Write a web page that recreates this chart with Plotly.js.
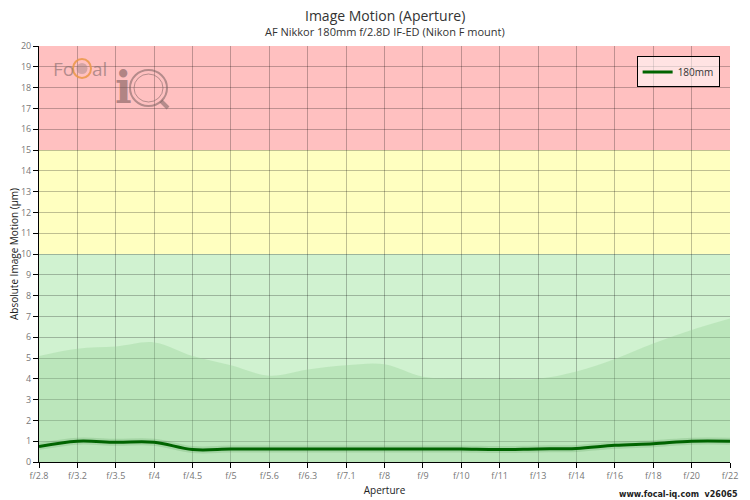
<!DOCTYPE html>
<html>
<head>
<meta charset="utf-8">
<script src="https://cdn.plot.ly/plotly-3.0.1.min.js"></script>
<style>
  html, body { margin: 0; padding: 0; background: #fff; }
  #chart { width: 750px; height: 500px; }
</style>
</head>
<body>
<div id="chart"></div>
<script>
// apertures along the x axis
const apertures = ['f/2.8', 'f/3.2', 'f/3.5', 'f/4', 'f/4.5', 'f/5', 'f/5.6', 'f/6.3', 'f/7.1', 'f/8',
                   'f/9', 'f/10', 'f/11', 'f/13', 'f/14', 'f/16', 'f/18', 'f/20', 'f/22'];
// measured image motion, 180mm
const motion180 = [0.75, 1.0, 0.95, 0.95, 0.6, 0.62, 0.62, 0.62, 0.63, 0.63,
                   0.63, 0.62, 0.6, 0.63, 0.65, 0.8, 0.88, 1.0, 1.0];
// shaded reference band (upper envelope)
const bandUpper = [5.1, 5.45, 5.55, 5.75, 5.1, 4.65, 4.15, 4.45, 4.65, 4.7,
                   4.1, 4.0, 4.0, 4.0, 4.35, 4.95, 5.7, 6.35, 6.9];
// zone limits (µm)
const zoneGreen = [0, 10];
const zoneYellow = [10, 15];
const zoneRed = [15, 20];

const idx = apertures.map((_, i) => i);

// plot area in page pixels, used only to place the logo
const L = 39, T = 46, W = 691, H = 416;
const px = v => (v - L) / W;
const py = v => (T + H - v) / H;

const traces = [
  {
    x: idx, y: bandUpper, type: 'scatter', mode: 'lines',
    line: { shape: 'spline', width: 0, color: 'rgba(0,0,0,0)' },
    fill: 'tozeroy', fillcolor: 'rgba(150,210,150,0.35)',
    hoverinfo: 'skip', showlegend: false
  },
  {
    x: idx, y: motion180, type: 'scatter', mode: 'lines',
    line: { shape: 'spline', width: 7, color: 'rgba(60,140,60,0.18)' },
    hoverinfo: 'skip', showlegend: false
  },
  {
    x: idx, y: motion180, type: 'scatter', mode: 'lines', name: '180mm',
    line: { shape: 'spline', width: 3, color: '#006400' }
  }
];

const zone = (r, color) => ({
  type: 'rect', xref: 'paper', yref: 'y', x0: 0, x1: 1, y0: r[0], y1: r[1],
  fillcolor: color, line: { width: 0 }, layer: 'below'
});

const logoGrey = 'rgba(120,95,95,0.55)';

const layout = {
  width: 750, height: 500,
  margin: { l: L, r: 750 - L - W, t: T, b: 500 - T - H },
  paper_bgcolor: '#ffffff',
  plot_bgcolor: '#ffffff',
  font: { family: 'Open Sans, sans-serif', size: 10, color: '#333' },
  showlegend: true,
  legend: {
    x: 0.985, xanchor: 'right', y: 0.975, yanchor: 'top',
    bgcolor: 'rgba(255,255,255,0.55)', bordercolor: '#000', borderwidth: 1,
    font: { size: 10, color: '#333' }, tracegroupgap: 0
  },
  xaxis: {
    range: [0, 18], tickmode: 'array', tickvals: idx, ticktext: apertures,
    showgrid: true, gridcolor: 'rgba(0,0,0,0.25)', gridwidth: 1,
    showline: true, linecolor: '#000', linewidth: 1,
    ticks: 'outside', ticklen: 5, tickcolor: '#000',
    tickfont: { size: 9, color: '#777' }, zeroline: false,
    title: { text: 'Aperture', font: { size: 10, color: '#222' }, standoff: 6 }
  },
  yaxis: {
    range: [0, 20], dtick: 1, tick0: 0,
    showgrid: true, gridcolor: 'rgba(0,0,0,0.25)', gridwidth: 1,
    showline: true, linecolor: '#000', linewidth: 1,
    ticks: 'outside', ticklen: 5, tickcolor: '#000',
    tickfont: { size: 9, color: '#777' }, zeroline: false,
    title: { text: 'Absolute Image Motion (µm)', font: { size: 10, color: '#222' }, standoff: 0 }
  },
  shapes: [
    zone(zoneGreen, '#d0f2d0'),
    zone(zoneYellow, '#ffffc0'),
    zone(zoneRed, '#ffc0c0'),
    // logo: ring around the C of "Focal"
    { type: 'circle', xref: 'paper', yref: 'paper',
      x0: px(73), x1: px(91), y0: py(78), y1: py(59),
      line: { color: 'rgba(235,150,70,0.85)', width: 2 } },
    { type: 'circle', xref: 'paper', yref: 'paper',
      x0: px(76.5), x1: px(87.5), y0: py(74), y1: py(63),
      fillcolor: 'rgba(160,130,130,0.45)', line: { width: 0 } },
    // logo: magnifier "Q"
    { type: 'circle', xref: 'paper', yref: 'paper',
      x0: px(130), x1: px(167), y0: py(106), y1: py(70),
      line: { color: logoGrey, width: 2 } },
    { type: 'circle', xref: 'paper', yref: 'paper',
      x0: px(134), x1: px(163), y0: py(102), y1: py(74),
      line: { color: logoGrey, width: 1 } },
    { type: 'line', xref: 'paper', yref: 'paper',
      x0: px(161), x1: px(168), y0: py(101), y1: py(108),
      line: { color: logoGrey, width: 4 } }
  ],
  annotations: [
    { text: 'Image Motion (Aperture)', xref: 'paper', yref: 'paper', x: 0.5, y: 1,
      yanchor: 'middle', yshift: 31, showarrow: false, font: { size: 14, color: '#333' } },
    { text: 'AF Nikkor 180mm f/2.8D IF-ED (Nikon F mount)', xref: 'paper', yref: 'paper',
      x: 0.5, y: 1, yanchor: 'middle', yshift: 15, showarrow: false, font: { size: 11, color: '#333' } },
    { text: 'www.focal-iq.com  v26065', xref: 'paper', yref: 'paper', x: 1, y: 0,
      xanchor: 'right', yanchor: 'top', xshift: 10, yshift: -26, showarrow: false,
      font: { size: 8, color: '#222', family: 'DejaVu Sans, sans-serif', weight: 'bold' } },
    { text: 'Fo', xref: 'paper', yref: 'paper', x: px(51), y: py(69),
      xanchor: 'left', yanchor: 'middle', showarrow: false,
      font: { size: 19, color: 'rgba(130,105,105,0.6)' } },
    { text: 'al', xref: 'paper', yref: 'paper', x: px(90), y: py(69),
      xanchor: 'left', yanchor: 'middle', showarrow: false,
      font: { size: 19, color: 'rgba(130,105,105,0.6)' } },
    { text: 'i', xref: 'paper', yref: 'paper', x: px(113), y: py(88),
      xanchor: 'left', yanchor: 'middle', showarrow: false,
      font: { size: 44, color: 'rgba(110,80,80,0.55)', family: 'DejaVu Serif, serif', weight: 'bold' } }
  ]
};

Plotly.newPlot('chart', traces, layout, { displayModeBar: false, staticPlot: true });
</script>
</body>
</html>
